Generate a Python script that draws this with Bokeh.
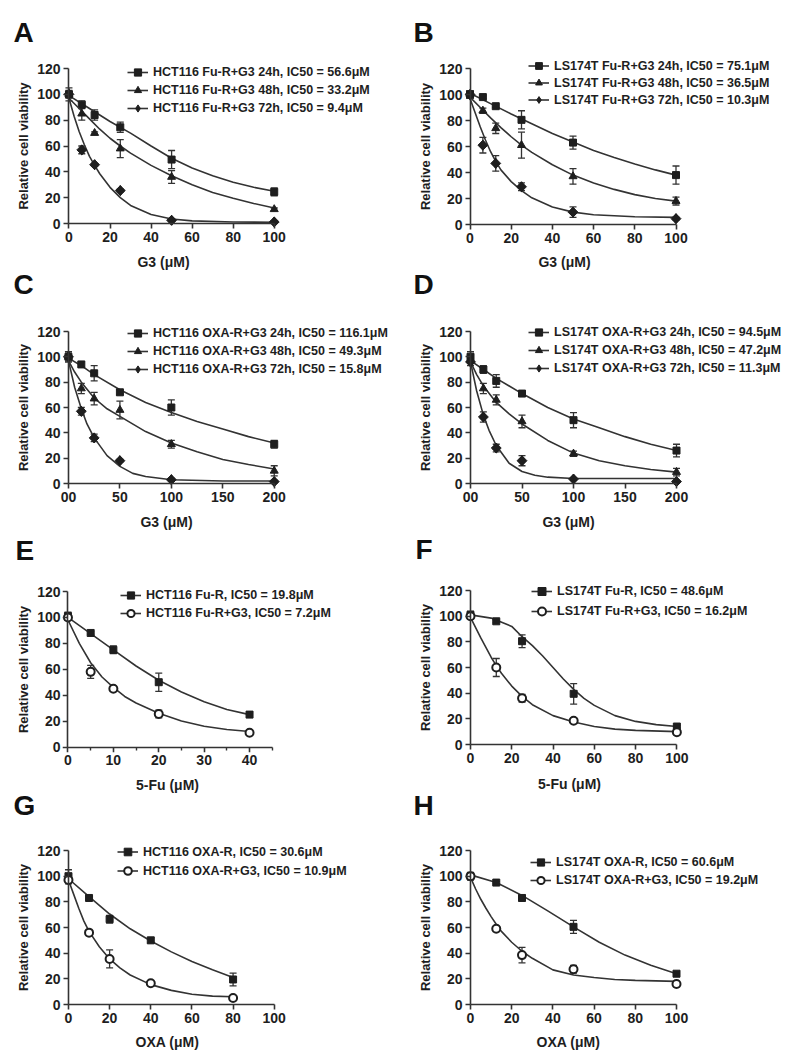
import math
from bokeh.plotting import figure
from bokeh.models import (ColumnDataSource, Whisker, TeeHead, FixedTicker, Legend,
                          LegendItem, Label, LinearAxis, Range1d, Title)
from bokeh.layouts import column, row
from bokeh.embed import file_html
from bokeh.resources import INLINE

FONT = "Liberation Sans"
INK = "#1e1e1e"
LINE = "#333333"

# ---------------- data ----------------
# Panel A: HCT116 Fu-R + G3
A_dose = [0, 6.25, 12.5, 25, 50, 100]
A_24h = [100, 92, 84, 74.5, 49.5, 24.5]
A_24h_err = [3, 3, 4, 4, 7, 3]
A_48h = [100, 85, 70, 58, 36, 11]
A_48h_err = [5, 5, 1, 7, 5, 1]
A_72h = [100, 57, 45.5, 25.5, 2.5, 1.2]
A_72h_err = [2, 3, 1, 1, 1, 1]
A_fit24_x = [0, 10, 20, 30, 40, 50, 60, 70, 80, 90, 100]
A_fit24_y = [99, 89, 79, 70, 60, 50.5, 43, 37, 32, 28, 25]
A_fit48_x = [0, 5, 10, 15, 20, 25, 30, 40, 50, 60, 70, 80, 90, 100]
A_fit48_y = [97, 89, 81, 73, 66, 60, 54.5, 45, 37, 30, 24, 19.5, 15.5, 12]
A_fit72_x = [0, 2.5, 5, 7.5, 10, 12.5, 15, 20, 25, 30, 40, 50, 60, 80, 100]
A_fit72_y = [97, 83, 71, 61, 52, 45, 38.5, 28, 20, 14, 7, 3.5, 2, 1.2, 1]
A_labels = ["HCT116 Fu-R+G3 24h, IC50 = 56.6\u03bcM",
            "HCT116 Fu-R+G3 48h, IC50 = 33.2\u03bcM",
            "HCT116 Fu-R+G3 72h, IC50 = 9.4\u03bcM"]

# Panel B: LS174T Fu-R + G3
B_dose = [0, 6.25, 12.5, 25, 50, 100]
B_24h = [100, 98, 91, 80.5, 63, 38]
B_24h_err = [3, 1, 1, 7, 5, 7]
B_48h = [100, 87.5, 74, 61, 37, 18]
B_48h_err = [3, 2, 4, 10, 6, 3]
B_72h = [100, 61, 47, 29, 9.5, 4.5]
B_72h_err = [3, 6, 6, 3, 4, 1]
B_fit24_x = [0, 10, 20, 30, 40, 50, 60, 70, 80, 90, 100]
B_fit24_y = [101, 93, 85, 77.5, 70, 63.5, 57, 51.5, 46.5, 42, 38]
B_fit48_x = [0, 5, 10, 15, 20, 25, 30, 40, 50, 60, 70, 80, 90, 100]
B_fit48_y = [98, 90, 82, 74.5, 67.5, 61, 55.5, 46, 38, 32, 27, 23, 20, 18]
B_fit72_x = [0, 2.5, 5, 7.5, 10, 12.5, 15, 20, 25, 30, 40, 50, 60, 80, 100]
B_fit72_y = [97, 86, 75, 65, 56, 48.5, 42, 33, 26, 20.5, 13.5, 9.5, 7.5, 6, 5.5]
B_labels = ["LS174T Fu-R+G3 24h, IC50 = 75.1\u03bcM",
            "LS174T Fu-R+G3 48h, IC50 = 36.5\u03bcM",
            "LS174T Fu-R+G3 72h, IC50 = 10.3\u03bcM"]

# Panel C: HCT116 OXA-R + G3
C_dose = [0, 12.5, 25, 50, 100, 200]
C_24h = [100, 94, 87, 72, 60, 31]
C_24h_err = [4, 2, 6, 2, 6, 3]
C_48h = [100, 75, 67, 58, 31, 10]
C_48h_err = [4, 4, 5, 7, 3, 4]
C_72h = [100, 57, 36, 18, 3, 1.5]
C_72h_err = [2, 3, 3, 1, 1, 1]
C_fit24_x = [0, 12.5, 25, 50, 75, 100, 125, 150, 175, 200]
C_fit24_y = [99, 93, 86, 74, 64, 56, 49, 43, 37, 32]
C_fit48_x = [0, 6, 12.5, 25, 37.5, 50, 75, 100, 125, 150, 175, 200]
C_fit48_y = [97, 88, 80, 67.5, 59, 53, 41, 32, 25, 19, 15, 11.5]
C_fit72_x = [0, 6, 12.5, 18, 25, 37.5, 50, 62.5, 75, 100, 150, 200]
C_fit72_y = [97, 76, 59, 47, 36, 22, 13.5, 8, 5.5, 3, 2, 2]
C_labels = ["HCT116 OXA-R+G3 24h, IC50 = 116.1\u03bcM",
            "HCT116 OXA-R+G3 48h, IC50 = 49.3\u03bcM",
            "HCT116 OXA-R+G3 72h, IC50 = 15.8\u03bcM"]

# Panel D: LS174T OXA-R + G3
D_dose = [0, 12.5, 25, 50, 100, 200]
D_24h = [100, 90, 81, 71, 50, 26]
D_24h_err = [4, 3, 5, 1, 6, 5]
D_48h = [98, 75, 66, 49, 23.5, 9]
D_48h_err = [3, 4, 4, 5, 2, 3]
D_72h = [96, 52.5, 28, 18, 3.5, 1.5]
D_72h_err = [3, 4, 3, 4, 1, 1]
D_fit24_x = [0, 12.5, 25, 50, 75, 100, 125, 150, 175, 200]
D_fit24_y = [97, 90, 83, 71, 60, 51, 44, 37, 31, 26]
D_fit48_x = [0, 6, 12.5, 25, 37.5, 50, 75, 100, 125, 150, 175, 200]
D_fit48_y = [96, 86, 77, 64, 55, 47, 34, 24, 18, 14, 11, 9]
D_fit72_x = [0, 6, 12.5, 18, 25, 37.5, 50, 62.5, 75, 100, 150, 200]
D_fit72_y = [96, 73, 54, 42, 30, 16, 9.5, 6.5, 5, 4, 4, 4]
D_labels = ["LS174T OXA-R+G3 24h, IC50 = 94.5\u03bcM",
            "LS174T OXA-R+G3 48h, IC50 = 47.2\u03bcM",
            "LS174T OXA-R+G3 72h, IC50 = 11.3\u03bcM"]

# Panel E: HCT116 5-Fu
E_dose = [0, 5, 10, 20, 40]
E_res = [101, 88, 75, 50, 25]
E_res_err = [3, 1, 3, 7, 2]
E_g3 = [100, 58, 45, 25.5, 11]
E_g3_err = [2, 5, 2, 3, 1]
E_fitres_x = [0, 5, 10, 15, 20, 25, 30, 35, 40]
E_fitres_y = [100, 87.5, 75, 62.5, 51.5, 42.5, 35, 29, 25]
E_fitg3_x = [0, 2.5, 5, 7.5, 10, 12.5, 15, 20, 25, 30, 35, 40]
E_fitg3_y = [98, 80, 65, 54, 46, 39, 34, 26, 20, 16, 13.5, 12]
E_labels = ["HCT116 Fu-R, IC50 = 19.8\u03bcM", "HCT116 Fu-R+G3, IC50 = 7.2\u03bcM"]

# Panel F: LS174T 5-Fu
F_dose = [0, 12.5, 25, 50, 100]
F_res = [101, 96, 80.5, 39.5, 14]
F_res_err = [3, 1, 5, 8, 1]
F_g3 = [100, 60, 36, 18.5, 9.5]
F_g3_err = [2, 7, 3, 2, 1]
F_fitres_x = [0, 10, 20, 25, 30, 35, 40, 45, 50, 55, 60, 70, 80, 90, 100]
F_fitres_y = [101, 98.5, 92, 84, 77, 69, 60, 51, 43, 36, 30.5, 22.5, 18, 15.5, 14]
F_fitg3_x = [0, 5, 10, 12.5, 15, 20, 25, 30, 40, 50, 60, 70, 80, 100]
F_fitg3_y = [99, 83, 68, 61.5, 55.5, 45.5, 37.5, 31, 22.5, 17.5, 14, 12, 11, 10]
F_labels = ["LS174T Fu-R, IC50 = 48.6\u03bcM", "LS174T Fu-R+G3, IC50 = 16.2\u03bcM"]

# Panel G: HCT116 OXA
G_dose = [0, 10, 20, 40, 80]
G_res = [100, 83, 66.5, 50, 19.5]
G_res_err = [5, 1, 3, 2, 5]
G_g3 = [97, 56, 35.5, 16.5, 5]
G_g3_err = [3, 1, 7, 1, 1]
G_fitres_x = [0, 10, 20, 30, 40, 50, 60, 70, 80]
G_fitres_y = [98, 84, 70.5, 59, 49.5, 41, 33.5, 27, 21]
G_fitg3_x = [0, 2.5, 5, 7.5, 10, 15, 20, 25, 30, 40, 50, 60, 70, 80]
G_fitg3_y = [97, 86, 75, 65, 57, 45, 35.5, 28.5, 23, 15.5, 11, 8, 6.5, 6]
G_labels = ["HCT116 OXA-R, IC50 = 30.6\u03bcM", "HCT116 OXA-R+G3, IC50 = 10.9\u03bcM"]

# Panel H: LS174T OXA
H_dose = [0, 12.5, 25, 50, 100]
H_res = [100, 95, 83, 60.5, 24]
H_res_err = [3, 1, 2, 5, 1]
H_g3 = [100, 59, 38.5, 27.5, 16]
H_g3_err = [2, 1, 6, 3, 2]
H_fitres_x = [0, 12.5, 25, 37.5, 50, 62.5, 75, 87.5, 100]
H_fitres_y = [101, 95, 85, 73, 60.5, 48.5, 38.5, 30.5, 24]
H_fitg3_x = [0, 2.5, 5, 7.5, 10, 12.5, 15, 20, 25, 30, 40, 50, 60, 70, 80, 100]
H_fitg3_y = [99, 90, 82, 75, 68.5, 62.5, 57, 48.5, 41.5, 36, 27, 23, 21, 19.5, 18.8, 18]
H_labels = ["LS174T OXA-R, IC50 = 60.6\u03bcM", "LS174T OXA-R+G3, IC50 = 19.2\u03bcM"]

Y_TICKS = [0, 20, 40, 60, 80, 100, 120]
Y_TITLE = "Relative cell viability"
PANEL_LETTERS = ["A", "B", "C", "D", "E", "F", "G", "H"]

# ---------------- styles ----------------
MSTYLE = {
    "square": dict(marker="square", size=7, fill_color=INK, line_color=INK, line_width=1),
    "triangle": dict(marker="triangle", size=8, fill_color=INK, line_color=INK, line_width=1),
    "diamond": dict(marker="square", angle=math.pi / 4, size=7, fill_color=INK,
                    line_color=INK, line_width=1),
    "circle": dict(marker="circle", size=8, fill_color="white", line_color=INK, line_width=2),
}
# key shown in the legend for the rotated-square series (drawn under the plot marks)
DIAMOND_KEY = dict(marker="diamond", size=10, fill_color=INK, line_color=INK, line_width=1)

# advance widths (em) of Liberation Sans Bold, used to centre the x titles
ADV = {"G": 0.778, "3": 0.556, " ": 0.278, "(": 0.333, ")": 0.333, "\u03bc": 0.611,
       "M": 0.833, "5": 0.556, "-": 0.333, "F": 0.611, "u": 0.611, "O": 0.778,
       "X": 0.667, "A": 0.722}
XT_SIZE = 14


def text_width(t, size):
    return sum(ADV.get(c, 0.6) for c in t) * size


def style_text_axis(ax):
    ax.axis_line_color = None
    ax.major_tick_line_color = None
    ax.minor_tick_line_color = None
    ax.major_tick_out = 0
    ax.major_tick_in = 0
    ax.minor_tick_out = 0
    ax.minor_tick_in = 0
    ax.major_label_text_font = FONT
    ax.major_label_text_font_style = "bold"
    ax.major_label_text_font_size = "14px"
    ax.major_label_text_color = INK


def line_axis(ticks, minor, bounds):
    ax = LinearAxis(fixed_location=0, bounds=bounds,
                    ticker=FixedTicker(ticks=ticks, minor_ticks=minor))
    ax.axis_line_width = 1.6
    ax.axis_line_color = LINE
    ax.major_tick_line_width = 1.6
    ax.major_tick_line_color = LINE
    ax.major_tick_in = 5
    ax.major_tick_out = 0
    ax.minor_tick_in = 3
    ax.minor_tick_out = 0
    ax.minor_tick_line_width = 1.4
    ax.minor_tick_line_color = LINE
    ax.major_label_overrides = {t: "" for t in ticks}
    ax.major_label_text_font_size = "0px"
    ax.major_label_standoff = 0
    return ax


def make_panel(geo, series, labels, xlabel, xticks, xminor, xmax, leg,
               zero_label="0", title_top=None, title_cx=None):
    fig_left, fig_top, width, height = geo["fig"]
    x0, x1, y0, y120 = geo["x0"], geo["x1"], geo["y0"], geo["y120"]
    fl = round(x0 - 6)
    fr = fig_left + width - 3
    ft = fig_top + 3
    fb = round(y0 + 6)
    sx = (x1 - x0) / xmax
    sy = (y0 - y120) / 120.0
    p = figure(width=width, height=height, title=None,
               x_range=Range1d((fl - x0) / sx, (fr - x0) / sx),
               y_range=Range1d((y0 - fb) / sy, (y0 - ft) / sy),
               min_border_left=fl - fig_left, min_border_right=fig_left + width - fr,
               min_border_top=ft - fig_top, min_border_bottom=fig_top + height - fb,
               output_backend="svg", toolbar_location=None)
    p.xgrid.visible = False
    p.ygrid.visible = False
    p.outline_line_color = None
    p.background_fill_color = "white"
    p.border_fill_color = "white"

    # tick labels (outside the frame)
    xa = p.xaxis[0]
    style_text_axis(xa)
    xa.bounds = (0, xmax)
    xa.ticker = FixedTicker(ticks=xticks, minor_ticks=[])
    xa.major_label_standoff = max(0, round((y0 + 8) - fb))
    if zero_label != "0":
        xa.major_label_overrides = {0: zero_label}

    ya = p.yaxis[0]
    style_text_axis(ya)
    ya.bounds = (0, 120)
    ya.ticker = FixedTicker(ticks=Y_TICKS, minor_ticks=[])
    ya.major_label_standoff = max(0, round(fl - (x0 - 8)))

    # x-axis title, under the axis line
    axis_bottom = fb + 2 + 17
    standoff = max(0, round(title_top - axis_bottom + 3))
    left_edge = title_cx - text_width(xlabel, XT_SIZE) / 2.0
    p.add_layout(Title(text=xlabel, align="left", vertical_align="bottom",
                       offset=left_edge - (fl + 5), standoff=standoff,
                       text_font=FONT, text_font_style="bold",
                       text_font_size="%dpx" % XT_SIZE, text_color=INK), "below")

    # axis lines and ticks drawn at the data zero
    p.add_layout(line_axis(xticks, xminor, (0, xmax)), "above")
    p.add_layout(line_axis(Y_TICKS, [], (0, 120)), "right")

    items = []
    for (xs, ys, errs, fx, fy, mk), lab in zip(series, labels):
        lr = p.line(fx, fy, line_width=1.6, line_color=LINE)
        src = ColumnDataSource(dict(x=xs, y=ys,
                                    upper=[v + e for v, e in zip(ys, errs)],
                                    lower=[v - e for v, e in zip(ys, errs)]))
        w = Whisker(base="x", upper="upper", lower="lower", source=src,
                    line_color=LINE, line_width=1.3,
                    upper_head=TeeHead(size=7, line_color=LINE, line_width=1.3),
                    lower_head=TeeHead(size=7, line_color=LINE, line_width=1.3))
        p.add_layout(w)
        key = None
        if mk == "diamond":
            key = p.scatter("x", "y", source=src, **DIAMOND_KEY)
        sr = p.scatter("x", "y", source=src, **MSTYLE[mk])
        items.append(LegendItem(label=lab, renderers=[lr, key if key is not None else sr]))

    gx, first_c, rh = leg
    n = len(items)
    top = first_c - rh / 2.0
    legend = Legend(items=items, location=(round(gx - fl), round(fb - (top + n * rh))),
                    orientation="vertical", label_text_font=FONT,
                    label_text_font_style="bold", label_text_font_size="12.5px",
                    label_text_color=INK, glyph_width=21, glyph_height=round(rh),
                    label_height=round(rh), label_standoff=5, spacing=0, padding=0,
                    margin=0, border_line_color=None, background_fill_alpha=0)
    p.add_layout(legend)
    return p


def make_strip(left, width, height, letters, titles):
    s = figure(width=width, height=height, title=None,
               x_range=Range1d(left, left + width), y_range=Range1d(0, height),
               min_border=0, min_border_left=0, min_border_right=0,
               min_border_top=0, min_border_bottom=0,
               x_axis_location=None, y_axis_location=None,
               output_backend="svg", toolbar_location=None)
    s.xgrid.visible = False
    s.ygrid.visible = False
    s.outline_line_color = None
    s.border_fill_color = "white"
    for txt, lx, ly in letters:
        s.add_layout(Label(x=lx, y=height - ly, text=txt, text_font=FONT,
                           text_font_style="bold", text_font_size="28px",
                           text_color="#111111", text_baseline="alphabetic",
                           text_align="left"))
    for cx, cy in titles:
        s.add_layout(Label(x=cx, y=height - cy, text=Y_TITLE, text_font=FONT,
                           text_font_style="bold", text_font_size="13px", text_color=INK,
                           angle=math.pi / 2, text_baseline="middle", text_align="center"))
    return s


X100 = [0, 20, 40, 60, 80, 100]
X200 = [0, 50, 100, 150, 200]
LX, LW = 34, 365       # left panel column
SRX, SRW = 399, 35     # right strip
RX, RW = 434, 364      # right panel column
R1, R2, R3, R4 = 0, 282, 546, 806
H1, H2, H3, H4 = 282, 264, 260, 256

pA = make_panel(dict(fig=(LX, R1, LW, H1), x0=66.5, x1=273, y0=223, y120=68),
                [(A_dose, A_24h, A_24h_err, A_fit24_x, A_fit24_y, "square"),
                 (A_dose, A_48h, A_48h_err, A_fit48_x, A_fit48_y, "triangle"),
                 (A_dose, A_72h, A_72h_err, A_fit72_x, A_fit72_y, "diamond")],
                A_labels, "G3 (\u03bcM)", X100, [], 100, (125, 71, 18.5),
                title_top=259, title_cx=166)
pB = make_panel(dict(fig=(RX, R1, RW, H1), x0=469.5, x1=675.5, y0=224, y120=68),
                [(B_dose, B_24h, B_24h_err, B_fit24_x, B_fit24_y, "square"),
                 (B_dose, B_48h, B_48h_err, B_fit48_x, B_fit48_y, "triangle"),
                 (B_dose, B_72h, B_72h_err, B_fit72_x, B_fit72_y, "diamond")],
                B_labels, "G3 (\u03bcM)", X100, [], 100, (528, 66, 17),
                title_top=259, title_cx=569)
pC = make_panel(dict(fig=(LX, R2, LW, H2), x0=66, x1=273, y0=483, y120=331),
                [(C_dose, C_24h, C_24h_err, C_fit24_x, C_fit24_y, "square"),
                 (C_dose, C_48h, C_48h_err, C_fit48_x, C_fit48_y, "triangle"),
                 (C_dose, C_72h, C_72h_err, C_fit72_x, C_fit72_y, "diamond")],
                C_labels, "G3 (\u03bcM)", X200, [], 200, (125, 332.5, 18.3),
                zero_label="00", title_top=519, title_cx=169)
pD = make_panel(dict(fig=(RX, R2, RW, H2), x0=470, x1=676, y0=483, y120=331),
                [(D_dose, D_24h, D_24h_err, D_fit24_x, D_fit24_y, "square"),
                 (D_dose, D_48h, D_48h_err, D_fit48_x, D_fit48_y, "triangle"),
                 (D_dose, D_72h, D_72h_err, D_fit72_x, D_fit72_y, "diamond")],
                D_labels, "G3 (\u03bcM)", X200, [], 200, (528, 331.5, 18.3),
                zero_label="00", title_top=519, title_cx=573)
pE = make_panel(dict(fig=(LX, R3, LW, H3), x0=65.5, x1=271, y0=746.5, y120=591),
                [(E_dose, E_res, E_res_err, E_fitres_x, E_fitres_y, "square"),
                 (E_dose, E_g3, E_g3_err, E_fitg3_x, E_fitg3_y, "circle")],
                E_labels, "5-Fu (\u03bcM)", [0, 10, 20, 30, 40], [5, 15, 25, 35, 45], 45,
                (118, 595, 18), title_top=782, title_cx=170)
pF = make_panel(dict(fig=(RX, R3, RW, H3), x0=469, x1=676, y0=744, y120=590),
                [(F_dose, F_res, F_res_err, F_fitres_x, F_fitres_y, "square"),
                 (F_dose, F_g3, F_g3_err, F_fitg3_x, F_fitg3_y, "circle")],
                F_labels, "5-Fu (\u03bcM)", X100, [], 100, (530, 592, 19.5),
                title_top=782, title_cx=573)
pG = make_panel(dict(fig=(LX, R4, LW, H4), x0=66, x1=273, y0=1004, y120=850),
                [(G_dose, G_res, G_res_err, G_fitres_x, G_fitres_y, "square"),
                 (G_dose, G_g3, G_g3_err, G_fitg3_x, G_fitg3_y, "circle")],
                G_labels, "OXA (\u03bcM)", X100, [], 100, (115, 852, 19),
                title_top=1039, title_cx=170)
pH = make_panel(dict(fig=(RX, R4, RW, H4), x0=470, x1=676, y0=1004, y120=850),
                [(H_dose, H_res, H_res_err, H_fitres_x, H_fitres_y, "square"),
                 (H_dose, H_g3, H_g3_err, H_fitg3_x, H_fitg3_y, "circle")],
                H_labels, "OXA (\u03bcM)", X100, [], 100, (530, 861, 18.5),
                title_top=1039, title_cx=573)

stripL = make_strip(0, LX, 1062,
                    [(PANEL_LETTERS[0], 13, 32), (PANEL_LETTERS[2], 13, 284),
                     (PANEL_LETTERS[4], 15, 550), (PANEL_LETTERS[6], 13, 805)],
                    [(23, 145.5), (23, 407), (23, 669), (23, 927)])
stripR = make_strip(SRX, SRW, 1062,
                    [(PANEL_LETTERS[1], 413, 32), (PANEL_LETTERS[3], 413, 284),
                     (PANEL_LETTERS[5], 415, 549), (PANEL_LETTERS[7], 413, 805)],
                    [(425, 146), (425, 407), (425, 667), (425, 927)])

layout = row(stripL, column(pA, pC, pE, pG), stripR, column(pB, pD, pF, pH))
open("out.html", "w").write(file_html(layout, INLINE))
